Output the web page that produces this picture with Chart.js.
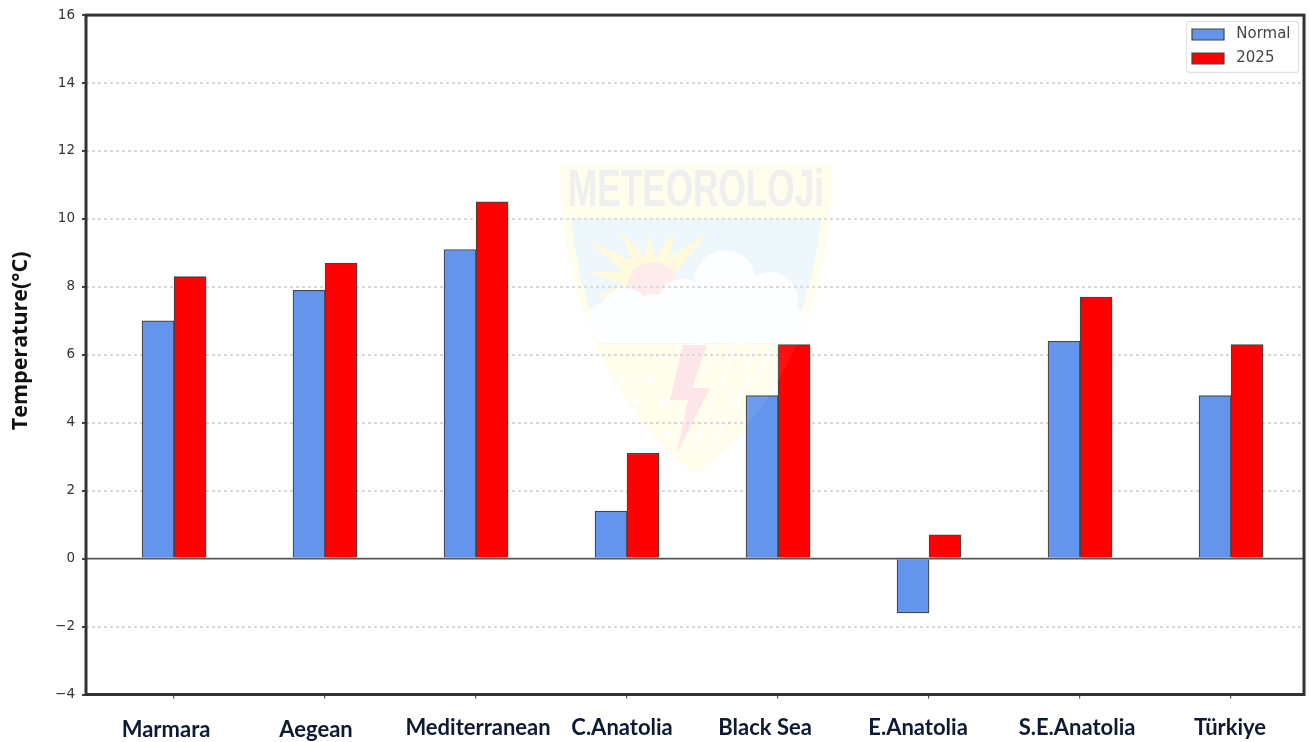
<!DOCTYPE html>
<html>
<head>
<meta charset="utf-8">
<script src="https://cdn.jsdelivr.net/npm/chart.js@4"></script>
<style>
html,body{margin:0;padding:0;background:#fff;overflow:hidden}
canvas{display:block;filter:blur(0.45px)}
</style>
</head>
<body>
<canvas id="c" width="1309" height="742"></canvas>
<script>
const categories = ["Marmara","Aegean","Mediterranean","C.Anatolia","Black Sea","E.Anatolia","S.E.Anatolia","Türkiye"];
const normalValues = [7.0,7.9,9.1,1.4,4.8,-1.6,6.4,4.8];
const values2025 = [8.3,8.7,10.5,3.1,6.3,0.7,7.7,6.3];
const seriesNames = ["Normal","2025"];
const yMin = -4, yMax = 16, yStep = 2;
const yTitle = "Temperature(°C)";

function shieldPath(ctx, inset){
  const l=560+inset, r=832-inset, t=165, cx=696, b=475-inset;
  ctx.beginPath();
  ctx.moveTo(l,t); ctx.lineTo(r,t);
  ctx.bezierCurveTo(r,290,r-45,405,cx,b);
  ctx.bezierCurveTo(l+45,405,l,290,l,t);
  ctx.closePath();
}
const watermark = {
  id:'watermark',
  beforeDraw(chart){
    const ctx=chart.ctx;
    ctx.save();
    shieldPath(ctx,0); ctx.fillStyle='#fffdea'; ctx.fill();
    ctx.save();
    shieldPath(ctx,8); ctx.clip();
    ctx.fillStyle='#ecf7fc'; ctx.fillRect(560,219,272,125);
    ctx.fillStyle='#fffdeb'; ctx.fillRect(560,344,272,135);
    ctx.restore();
    ctx.fillStyle='#fffad9';
    [[587,240],[620,230],[648,232],[675,230],[708,232],[587,272],[595,297]].forEach(p=>{
      const dx=653-p[0],dy=283-p[1],d=Math.hypot(dx,dy),nx=-dy/d*8,ny=dx/d*8;
      ctx.beginPath();ctx.moveTo(p[0],p[1]);
      ctx.lineTo(653+nx-dx*0.3,283+ny-dy*0.3);ctx.lineTo(653-nx-dx*0.3,283-ny-dy*0.3);ctx.closePath();ctx.fill();
    });
    ctx.fillStyle='#feeaea';
    ctx.beginPath();ctx.arc(653,288,26,0,Math.PI*2);ctx.fill();
    ctx.fillStyle='#fdfeff';
    [[607,322,20],[625,312,24],[655,318,24],[682,303,24],[725,280,30],[770,300,28],[786,324,20],[740,318,26],[700,322,22]].forEach(c=>{
      ctx.beginPath();ctx.arc(c[0],c[1],c[2],0,Math.PI*2);ctx.fill();
    });
    ctx.fillRect(602,318,186,25);
    ctx.fillStyle='#fde5e8';
    ctx.beginPath();
    ctx.moveTo(683,345);ctx.lineTo(707,345);ctx.lineTo(692,388);ctx.lineTo(710,388);
    ctx.lineTo(677,453);ctx.lineTo(688,400);ctx.lineTo(670,400);ctx.closePath();ctx.fill();
    ctx.strokeStyle='#ffffff';ctx.lineWidth=2;
    [[716,345,705,375],[735,345,722,385],[755,345,745,375],[770,350,755,385],[715,395,700,440],[735,395,720,430],[750,375,735,410],[700,430,692,455],[725,420,712,445]].forEach(s=>{
      ctx.beginPath();ctx.moveTo(s[0],s[1]);ctx.lineTo(s[2],s[3]);ctx.stroke();
    });
    ctx.fillStyle='#ffffff';
    [[622,379],[650,379],[636,402],[663,404],[668,435]].forEach(p=>{
      ctx.beginPath();ctx.arc(p[0],p[1],3,0,Math.PI*2);ctx.fill();
    });
    ctx.fillStyle='#efefef';
    ctx.font='bold 51px "Liberation Sans Narrow","Liberation Sans"';
    ctx.textAlign='center';ctx.textBaseline='middle';
    const txt='METEOROLOJi';
    ctx.save();
    ctx.translate(696,192);
    const w=ctx.measureText(txt).width;
    ctx.scale(256/w,1);
    ctx.fillText(txt,0,0);
    ctx.restore();
    ctx.restore();
  },
  afterDatasetsDraw(chart){
    const ctx=chart.ctx;
    ctx.save();
    shieldPath(ctx,0);
    ctx.fillStyle='rgba(255,255,255,0.06)';
    ctx.fill();
    ctx.restore();
  }
};
const frame = {
  id:'frame',
  afterLayout(chart){
    const lg=chart.legend;
    lg.left=1183; lg.right=1298; lg.top=18; lg.bottom=140;
    lg.width=115; lg.height=122;
    const nudge=[[-8,1],[-9,1],[2,-1],[-5,-1],[-13,-1],[-11,-1],[-3,-1],[-1,-1]];
    chart.scales.x.getLabelItems().forEach((it,i)=>{
      const n=nudge[i]||[0,0];
      it.options.translation=[it.options.translation[0]+n[0],it.options.translation[1]+n[1]];
    });
  },
  afterDatasetsDraw(chart){
    const {ctx,chartArea:a,scales:{y}}=chart;
    ctx.save();
    ctx.strokeStyle='#555';ctx.lineWidth=1.6;
    const y0=y.getPixelForValue(0);
    ctx.beginPath();ctx.moveTo(a.left,y0);ctx.lineTo(a.right,y0);ctx.stroke();
    ctx.strokeStyle='#333';ctx.lineWidth=3;
    ctx.strokeRect(a.left,a.top,a.right-a.left,a.bottom-a.top);
    ctx.strokeStyle='#e4e4e4';ctx.lineWidth=1.3;
    ctx.beginPath();ctx.roundRect(1186.5,21.5,112,51,3);ctx.stroke();
    ctx.restore();
  }
};
new Chart(document.getElementById('c'),{
  type:'bar',
  data:{
    datasets:[
      {label:seriesNames[0],data:normalValues.map((v,i)=>({x:i,y:v})),backgroundColor:'#6495ED',borderColor:'#444444',borderWidth:1.2,barThickness:32},
      {label:seriesNames[1],data:values2025.map((v,i)=>({x:i,y:v})),backgroundColor:'#FF0000',borderColor:'#444444',borderWidth:1.2,barThickness:32}
    ]
  },
  options:{
    responsive:false,
    animation:false,
    devicePixelRatio:1,
    layout:{padding:{left:0,right:5,top:12.5,bottom:0}},
    scales:{
      x:{
        type:'linear',
        offset:false,
        min:-0.583,max:7.483,
        grid:{display:true,offset:false,drawOnChartArea:false,drawTicks:true,tickLength:4,tickColor:'#555',lineWidth:1.2},
        border:{display:false},
        afterFit(s){s.height=47.5;},
        ticks:{
          includeBounds:false,stepSize:1,autoSkip:false,maxRotation:0,padding:17,
          color:'#0d1a33',font:{family:'Lato',weight:'bold',size:22},
          callback:v=>categories[v]
        }
      },
      y:{
        min:yMin,max:yMax,
        afterFit(s){s.width=86;},
        grid:{color:c=>c.tick.value===0?'rgba(0,0,0,0)':'#d8d8d8',lineWidth:2,tickColor:'#444',tickLength:4},
        border:{display:false,dash:[3,3]},
        title:{display:true,text:'     '+yTitle,color:'#111',font:{family:'Open Sans',weight:'bold',size:21.5},padding:{top:8,bottom:6}},
        ticks:{
          stepSize:yStep,padding:7,color:'#333',
          font:{family:'DejaVu Sans',size:13.5},
          callback:v=>String(v).replace('-','\u2212')
        }
      }
    },
    plugins:{
      legend:{
        position:'chartArea',align:'start',
        labels:{
          boxWidth:32,boxHeight:11,padding:9,color:'#444',font:{family:'DejaVu Sans',size:15},
          generateLabels:c=>Chart.defaults.plugins.legend.labels.generateLabels(c).map(l=>Object.assign(l,{text:' '+l.text}))
        }
      },
      tooltip:{enabled:false}
    }
  },
  plugins:[watermark,frame]
});
</script>
</body>
</html>
